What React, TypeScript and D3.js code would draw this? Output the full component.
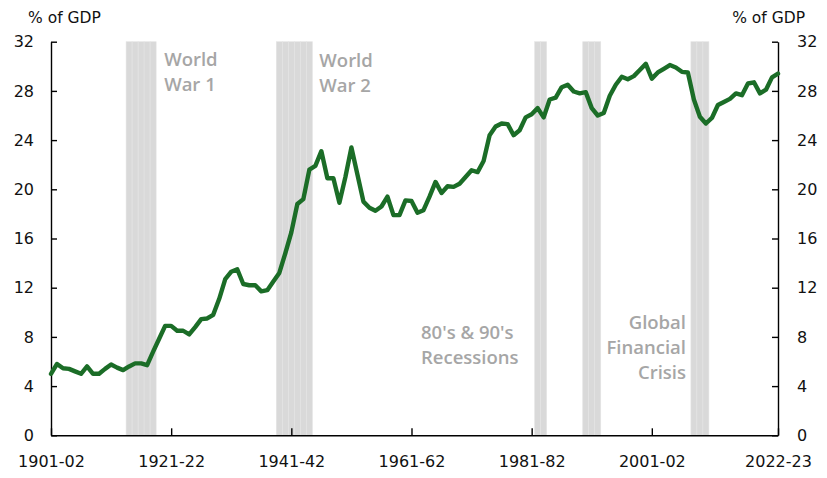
import * as React from 'react';
import {useEffect, useRef} from 'react';
import * as d3 from 'd3';

// Receipts share of GDP, one value per financial year from 1901-02 to 2022-23
const START_YEAR = 1901;
const gdpShare = [
    5.0, 5.8, 5.45, 5.4, 5.2, 5.0, 5.6, 5.0, 5.0, 5.4,
    5.75, 5.5, 5.3, 5.6, 5.85, 5.85, 5.7, 6.8, 7.85, 8.9,
    8.9, 8.5, 8.5, 8.2, 8.8, 9.45, 9.5, 9.8, 11.1, 12.7,
    13.3, 13.5, 12.3, 12.2, 12.2, 11.7, 11.8, 12.5, 13.2, 14.8,
    16.5, 18.8, 19.2, 21.6, 21.9, 23.1, 20.9, 20.9, 18.9, 21.0,
    23.4, 21.2, 19.0, 18.5, 18.25, 18.6, 19.4, 17.9, 17.9, 19.1,
    19.05, 18.1, 18.3, 19.4, 20.6, 19.7, 20.25, 20.2, 20.45, 21.0,
    21.55, 21.4, 22.3, 24.4, 25.1, 25.35, 25.3, 24.4, 24.8, 25.85,
    26.1, 26.6, 25.85, 27.3, 27.45, 28.3, 28.5, 27.95, 27.8, 27.9,
    26.6, 26.0, 26.2, 27.6, 28.5, 29.15, 28.95, 29.2, 29.7, 30.2,
    29.0, 29.5, 29.8, 30.1, 29.9, 29.55, 29.5, 27.3, 25.9, 25.35,
    25.8, 26.85, 27.1, 27.35, 27.8, 27.65, 28.6, 28.7, 27.8, 28.1,
    29.1, 29.4,
];

const xTickLabels = ['1901-02', '1921-22', '1941-42', '1961-62', '1981-82', '2001-02', '2022-23'];
const yTicks = [0, 4, 8, 12, 16, 20, 24, 28, 32];

const shadedYears = [
    '1914-15', '1915-16', '1916-17', '1917-18', '1918-19',
    '1939-40', '1940-41', '1941-42', '1942-43', '1943-44', '1944-45',
    '1982-83', '1983-84',
    '1990-91', '1991-92', '1992-93',
    '2008-09', '2009-10', '2010-11',
];

const fyLabel = (y: number) => `${y}-${String((y + 1) % 100).padStart(2, '0')}`;
const years = gdpShare.map((_, i) => fyLabel(START_YEAR + i));

const TICK_FONT = '"DejaVu Sans", sans-serif';
const NOTE_FONT = '"Open Sans", sans-serif';

export default function App() {
    const ref = useRef<SVGSVGElement>(null);

    useEffect(() => {
        const svg = d3.select(ref.current);
        svg.selectAll('*').remove();

        const left = 51, right = 778, top = 41.7, bottom = 435.3;

        const x = d3.scalePoint<string>().domain(years).range([left, right]);
        const y = d3.scaleLinear().domain([0, 32]).range([bottom, top]);
        const step = x.step();

        // shaded periods, one column per year
        svg.append('g')
            .selectAll('rect')
            .data(shadedYears)
            .enter()
            .append('rect')
            .attr('x', d => (x(d) as number) - step / 2)
            .attr('y', y(32))
            .attr('width', step)
            .attr('height', y(0) - y(32))
            .attr('fill', '#d9d9d9')
            .attr('stroke', '#e4e4e4')
            .attr('stroke-width', 0.6);

        const styleAxis = (g: any) => {
            g.attr('font-family', TICK_FONT).attr('font-size', 16);
            g.select('.domain').attr('stroke', '#000').attr('stroke-width', 1.4);
            g.selectAll('.tick line').attr('stroke', '#000').attr('stroke-width', 1.4);
            g.selectAll('.tick text').attr('fill', '#111');
        };

        svg.append('g')
            .attr('transform', `translate(${left},0)`)
            .call(d3.axisLeft(y).tickValues(yTicks).tickSize(-6).tickSizeOuter(0).tickPadding(17))
            .call(styleAxis);

        svg.append('g')
            .attr('transform', `translate(${right},0)`)
            .call(d3.axisRight(y).tickValues(yTicks).tickSize(-6).tickSizeOuter(0).tickPadding(19))
            .call(styleAxis);

        svg.append('g')
            .attr('transform', `translate(0,${bottom})`)
            .call(d3.axisBottom(x).tickValues(xTickLabels).tickSize(-7).tickSizeOuter(0).tickPadding(20))
            .call(styleAxis);

        const line = d3.line<number>()
            .x((d, i) => x(years[i]) as number)
            .y(d => y(d));

        svg.append('path')
            .datum(gdpShare)
            .attr('d', line)
            .attr('fill', 'none')
            .attr('stroke', '#1b6d27')
            .attr('stroke-width', 4.4)
            .attr('stroke-linejoin', 'round')
            .attr('stroke-linecap', 'round');

        // axis titles
        svg.append('text').attr('x', 28).attr('y', 23).text('% of GDP')
            .attr('font-family', TICK_FONT).attr('font-size', 15.5).attr('fill', '#111');
        svg.append('text').attr('x', 805).attr('y', 23).attr('text-anchor', 'end').text('% of GDP')
            .attr('font-family', TICK_FONT).attr('font-size', 15.5).attr('fill', '#111');

        const notes = [
            {lines: ['World', 'War 1'], x: (x('1918-19') as number) + step / 2 + 8, y: 66, anchor: 'start'},
            {lines: ['World', 'War 2'], x: (x('1944-45') as number) + step / 2 + 7, y: 67, anchor: 'start'},
            {lines: ["80's & 90's", 'Recessions'], x: 421, y: 339, anchor: 'start'},
            {lines: ['Global', 'Financial', 'Crisis'], x: 686, y: 329, anchor: 'end'},
        ];

        notes.forEach(n => {
            const t = svg.append('text')
                .attr('x', n.x)
                .attr('y', n.y)
                .attr('text-anchor', n.anchor)
                .attr('font-family', NOTE_FONT)
                .attr('font-size', 18.5)
                .attr('font-weight', 600)
                .attr('fill', '#a6a6a6');
            n.lines.forEach((l, i) => {
                t.append('tspan').attr('x', n.x).attr('dy', i === 0 ? 0 : 25).text(l);
            });
        });
    }, []);

    return (
        <svg ref={ref} width={827} height={478}
             style={{position: 'absolute', left: 0, top: 0, background: '#fff'}}/>
    );
}
